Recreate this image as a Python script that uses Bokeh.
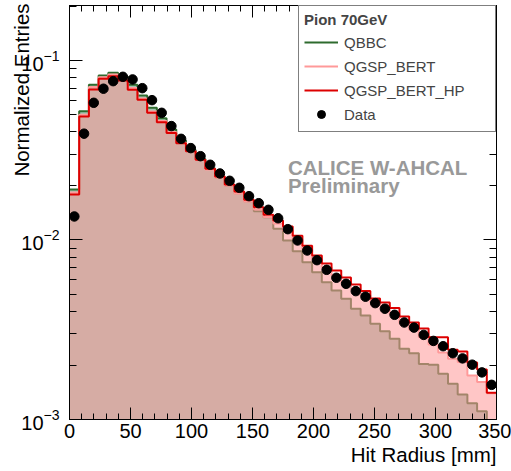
import numpy as np
from bokeh.plotting import figure
from bokeh.models import (Range1d, LinearAxis, LogAxis, FixedTicker, Label, Legend, Title,
                          LegendItem, CustomJSTickFormatter, LogTickFormatter)
from bokeh.embed import file_html
from bokeh.resources import INLINE

# ---------------- data ----------------
x_min, x_max = 0.0, 350.0
n_bins = 44
bin_edges = np.linspace(x_min, x_max, n_bins + 1)
bin_centers = 0.5 * (bin_edges[:-1] + bin_edges[1:])

data_entries = [0.01352, 0.0391, 0.0581, 0.0696, 0.0767, 0.0811, 0.0784, 0.0701, 0.0601, 0.0511,
                0.0431, 0.0366, 0.0325, 0.0293, 0.02624, 0.02347, 0.02137, 0.01953, 0.01754, 0.01603,
                0.01473, 0.01321, 0.01149, 0.00994, 0.00874, 0.00772, 0.00682, 0.00616, 0.0057, 0.00519,
                0.00483, 0.00445, 0.00414, 0.00383, 0.00347, 0.00325, 0.00296, 0.00274, 0.00256, 0.00234,
                0.00219, 0.00202, 0.00183, 0.00156]

qbbc = [0.01911, 0.0522, 0.0732, 0.0825, 0.0854, 0.0815, 0.0732, 0.0638, 0.0545, 0.0477,
        0.0413, 0.0358, 0.0317, 0.0283, 0.0250, 0.0223, 0.0201, 0.01823, 0.01645, 0.01446,
        0.0134, 0.01155, 0.00994, 0.00866, 0.00752, 0.00662, 0.00582, 0.00523, 0.0047, 0.00414,
        0.0038, 0.00341, 0.0031, 0.00282, 0.00248, 0.00234, 0.00204, 0.00202, 0.0018, 0.00158,
        0.00138, 0.00123, 0.00111, 0.0009]

qgsp_bert = [0.01839, 0.0498, 0.0712, 0.0807, 0.0836, 0.0789, 0.0703, 0.0614, 0.0520, 0.0460,
             0.0400, 0.0349, 0.0313, 0.0279, 0.0247, 0.0223, 0.0201, 0.01816, 0.01638, 0.01478,
             0.01343, 0.01236, 0.0113, 0.01006, 0.00885, 0.00784, 0.00703, 0.00638, 0.00583, 0.00533,
             0.00491, 0.00448, 0.00432, 0.00385, 0.00344, 0.00316, 0.00287, 0.00262, 0.00236, 0.00218,
             0.00209, 0.00176, 0.00162, 0.0014]

qgsp_bert_hp = [0.01793, 0.0488, 0.0689, 0.0791, 0.0818, 0.0774, 0.0687, 0.0604, 0.0511, 0.0453,
                0.0395, 0.0346, 0.0312, 0.0280, 0.0249, 0.0226, 0.0204, 0.01863, 0.01675, 0.01523,
                0.01382, 0.01284, 0.01189, 0.01055, 0.00928, 0.00820, 0.00740, 0.00676, 0.00618, 0.00565,
                0.00520, 0.00472, 0.00448, 0.00418, 0.00375, 0.00347, 0.00321, 0.00287, 0.00287, 0.00245,
                0.00239, 0.00208, 0.0019, 0.00141]

x_ticks = [0, 50, 100, 150, 200, 250, 300, 350]
x_minor_ticks = list(range(0, 351, 10))
y_ticks = [1e-3, 1e-2, 1e-1]
y_minor_ticks = [k * 10.0 ** e for e in (-3, -2, -1) for k in range(2, 10)]

y_min, y_max = 1e-3, 0.2024
FONT = "Liberation Sans"

# ---------------- figure ----------------
p = figure(width=511, height=470, x_range=Range1d(x_min, x_max), y_range=Range1d(y_min, y_max),
           y_axis_type="log", output_backend="svg", toolbar_location=None,
           min_border_left=69, min_border_right=15, min_border_top=5, min_border_bottom=51)
p.grid.visible = False
p.outline_line_color = "black"
p.outline_line_width = 1
p.background_fill_color = "white"
p.border_fill_color = "white"

blank = CustomJSTickFormatter(code="return ''")

# bottom axis
xa = p.xaxis[0]
xa.ticker = FixedTicker(ticks=x_ticks, minor_ticks=x_minor_ticks)
xa.major_label_text_font = FONT
xa.major_label_text_font_size = "20px"
xa.major_label_text_color = "black"
xa.major_label_standoff = 4

# left axis
ya = p.yaxis[0]
ya.ticker = FixedTicker(ticks=y_ticks, minor_ticks=y_minor_ticks)
ya.formatter = LogTickFormatter()
ya.major_label_text_font = FONT
ya.major_label_text_font_size = "20px"
ya.major_label_text_color = "black"
ya.major_label_standoff = 10

# mirror axes
top_ax = LinearAxis(ticker=FixedTicker(ticks=x_ticks, minor_ticks=x_minor_ticks), formatter=blank,
                    major_label_text_font_size="0px", major_label_standoff=0)
right_ax = LogAxis(ticker=FixedTicker(ticks=y_ticks, minor_ticks=y_minor_ticks), formatter=blank,
                   major_label_text_font_size="0px", major_label_standoff=0)
p.add_layout(top_ax, "above")
p.add_layout(right_ax, "right")

for ax in (xa, top_ax):
    ax.major_tick_in = 12
    ax.major_tick_out = 0
    ax.minor_tick_in = 6
    ax.minor_tick_out = 0
for ax in (ya, right_ax):
    ax.major_tick_in = 13
    ax.major_tick_out = 0
    ax.minor_tick_in = 7
    ax.minor_tick_out = 0
for ax in (xa, top_ax, ya, right_ax):
    ax.axis_line_color = "black"
    ax.major_tick_line_color = "black"
    ax.minor_tick_line_color = "black"


def step_y(vals):
    return list(vals) + [vals[-1]]


floor = [1e-4] * (n_bins + 1)

# QBBC (fill + line)
p.varea_step(x=bin_edges, y1=floor, y2=step_y(qbbc), step_mode="after",
             fill_color="#166b3e", fill_alpha=0.4)
r_qbbc = p.step(x=bin_edges, y=step_y(qbbc), mode="after", line_color="#2e6b2e", line_width=2)

# QGSP_BERT (fill + line)
p.varea_step(x=bin_edges, y1=floor, y2=step_y(qgsp_bert), step_mode="after",
             fill_color="#ff9999", fill_alpha=0.56)
r_bert = p.step(x=bin_edges, y=step_y(qgsp_bert), mode="after", line_color="#ff9999", line_width=2)

# QGSP_BERT_HP (line)
r_hp = p.step(x=bin_edges, y=step_y(qgsp_bert_hp), mode="after", line_color="#dd0000", line_width=2)

# Data
r_data = p.scatter(x=bin_centers, y=data_entries, marker="circle", size=9.5,
                   fill_color="black", line_color="black")

# Legend
legend = Legend(items=[LegendItem(label="QBBC", renderers=[r_qbbc]),
                       LegendItem(label="QGSP_BERT", renderers=[r_bert]),
                       LegendItem(label="QGSP_BERT_HP", renderers=[r_hp]),
                       LegendItem(label="Data", renderers=[r_data])],
                location="top_right", margin=0, padding=5, spacing=0,
                glyph_width=34, glyph_height=20, label_height=24, label_width=146,
                label_standoff=6, title="Pion 70GeV", title_standoff=2,
                title_text_font=FONT, title_text_font_style="bold", title_text_font_size="15px",
                label_text_font=FONT, label_text_font_size="15px",
                border_line_color="black", border_line_width=1,
                background_fill_color="white", background_fill_alpha=1.0)
p.add_layout(legend)

# Texts
p.add_layout(Label(x=179, y=0.0254, text="CALICE W-AHCAL", text_font=FONT, text_font_size="20.5px",
                   text_font_style="bold", text_color="#999999", text_baseline="alphabetic"))
p.add_layout(Label(x=179, y=0.0200, text="Preliminary", text_font=FONT, text_font_size="20.5px",
                   text_font_style="bold", text_color="#999999", text_baseline="alphabetic"))

# axis titles, right/top aligned as in ROOT
p.add_layout(Title(text="Hit Radius [mm]", align="right", text_font=FONT, text_font_size="20.5px",
                   text_font_style="normal", text_color="black", standoff=0), "below")

# y title: centred axis label, pushed to the top end with leading no-break spaces
ya.axis_label = "\u00a0" * 43 + "Normalized Entries"
ya.axis_label_standoff = -15
ya.axis_label_text_font = FONT
ya.axis_label_text_font_size = "20.5px"
ya.axis_label_text_font_style = "normal"
ya.axis_label_text_color = "black"

open("out.html", "w").write(file_html(p, INLINE))
